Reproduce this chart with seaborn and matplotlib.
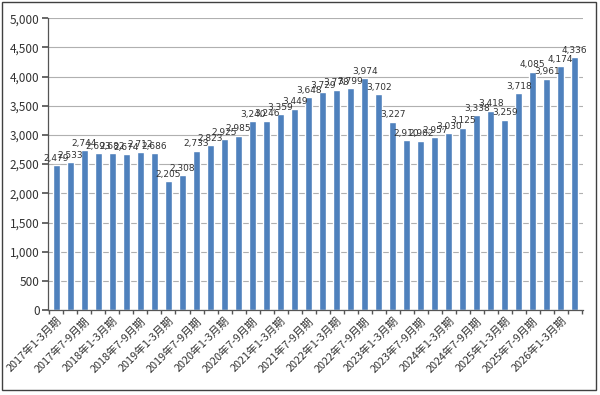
import matplotlib
matplotlib.use("Agg")
import matplotlib.pyplot as plt
import seaborn as sns
import pandas as pd
import numpy as np
from matplotlib.patches import Rectangle

years = list(range(2017, 2027))
quarter_names = ["1-3月期", "4-6月期", "7-9月期", "10-12月期"]
categories = [f"{y}年{q}" for y in years for q in quarter_names][:38]
values = [2479, 2533, 2744, 2693, 2682, 2674, 2712, 2686, 2205, 2308,
          2733, 2823, 2925, 2985, 3240, 3246, 3359, 3449, 3648, 3729,
          3778, 3799, 3974, 3702, 3227, 2910, 2902, 2957, 3030, 3125,
          3338, 3418, 3259, 3718, 4085, 3961, 4174, 4336]
yticks = [0, 500, 1000, 1500, 2000, 2500, 3000, 3500, 4000, 4500, 5000]

sns.set_theme(style="white")
plt.rcParams['font.family'] = ['Noto Sans CJK JP', 'DejaVu Sans']

df = pd.DataFrame({"period": categories, "value": values})

fig = plt.figure(figsize=(6, 3.95), dpi=100)
ax = fig.add_axes([0.08, 0.215, 0.892, 0.739])
sns.barplot(data=df, x="period", y="value", color="#4F81BD", width=0.5,
            saturation=1, ax=ax)

ax.set_ylim(0, 5000)
ax.set_yticks(yticks)
ax.set_yticklabels([f"{v:,}" for v in yticks], fontsize=8.5, color="#333333")
ax.yaxis.grid(True, color="#B0B0B0", linewidth=0.8)
ax.set_axisbelow(True)
ax.set_xlim(-0.6, len(values) - 0.4)

ax.set_xticks(range(0, len(values), 2))
ax.set_xticklabels(categories[::2], rotation=45, ha="right",
                   rotation_mode="anchor", fontsize=7.8, color="#333333")
ax.set_xticks(np.arange(-0.5, len(values), 1), minor=True)
ax.set_xlabel("")
ax.set_ylabel("")

for s in ["top", "right"]:
    ax.spines[s].set_visible(False)
for s in ["left", "bottom"]:
    ax.spines[s].set_color("#555555")
    ax.spines[s].set_linewidth(0.9)
ax.tick_params(axis="y", length=4, color="#555555", pad=2, left=True)
ax.tick_params(axis="x", which="major", length=0, pad=4, bottom=True)
ax.tick_params(axis="x", which="minor", length=3, color="#555555", bottom=True)

for i, v in enumerate(values):
    ax.text(i, v + 40, f"{v:,}", ha="center", va="bottom", fontsize=6.5,
            color="#333333", family=['DejaVu Sans'])

fig.patches.append(Rectangle((0.004, 0.012), 0.99, 0.982, transform=fig.transFigure,
                             fill=False, edgecolor="#404040", linewidth=1.0))

fig.savefig("out.png", dpi=100)
